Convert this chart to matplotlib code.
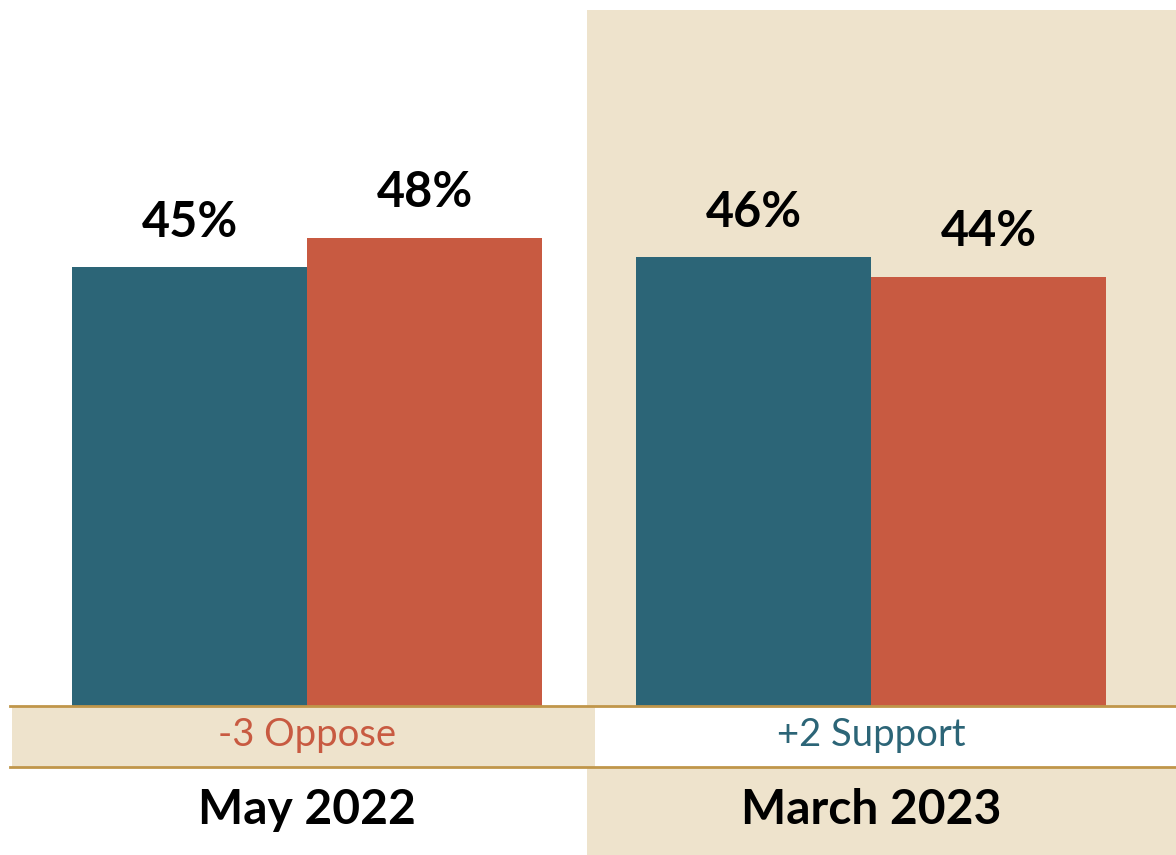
import matplotlib.pyplot as plt
from matplotlib.patches import Rectangle
import numpy as np

periods = ['May 2022', 'March 2023']
support = [45, 46]
oppose = [48, 44]
net_labels = ['-3 Oppose', '+2 Support']

TEAL = '#2C6577'
RED = '#C85A41'
BEIGE = '#EEE3CC'
GOLD = '#C0964A'

plt.rcParams['font.family'] = ['Lato', 'DejaVu Sans']

W, H = 1176, 855
fig = plt.figure(figsize=(W / 100, H / 100), dpi=100, facecolor='white')


def fx(px):
    return px / W


def fy(py):
    return 1 - py / H


# shaded panel behind the second period
fig.add_artist(Rectangle((fx(587), 0), 1 - fx(587), fy(10), transform=fig.transFigure,
                         facecolor=BEIGE, edgecolor='none', zorder=0))
# net change row
fig.add_artist(Rectangle((fx(12), fy(767)), fx(595 - 12), fy(707) - fy(767),
                         transform=fig.transFigure, facecolor=BEIGE, edgecolor='none', zorder=1))
fig.add_artist(Rectangle((fx(595), fy(767)), 1 - fx(595), fy(707) - fy(767),
                         transform=fig.transFigure, facecolor='white', edgecolor='none', zorder=1))
for py in (706, 767):
    fig.add_artist(plt.Line2D([fx(10), 1], [fy(py), fy(py)], transform=fig.transFigure,
                              color=GOLD, lw=2, zorder=3))

# bars
ax = fig.add_axes([0, fy(706), 1, fy(10) - fy(706)])
ax.patch.set_alpha(0)
x = np.arange(len(periods))
w = 235 / 564
ax.bar(x - w / 2, support, w, color=TEAL, zorder=2)
ax.bar(x + w / 2, oppose, w, color=RED, zorder=2)
ax.set_xlim(-307 / 564, (1176 - 307) / 564)
ax.set_ylim(0, 696 / 9.76)
ax.axis('off')

for xi, s, o in zip(x, support, oppose):
    for xx, v in ((xi - w / 2, s), (xi + w / 2, o)):
        ax.annotate(f'{v}%', (xx, v), xytext=(0, 16), textcoords='offset points',
                    ha='center', va='bottom', fontsize=35, fontweight='bold', color='black')

# net labels and period labels
centers = [fx(307), fx(871)]
for c, lab, col in zip(centers, net_labels, [RED, TEAL]):
    fig.text(c, fy(735), lab, ha='center', va='center', fontsize=27.5, color=col, zorder=4)
for c, lab in zip(centers, periods):
    fig.text(c, fy(810), lab, ha='center', va='center', fontsize=34.5, fontweight='bold',
             color='black', zorder=4)

fig.savefig('out.png', dpi=100, facecolor='white')
